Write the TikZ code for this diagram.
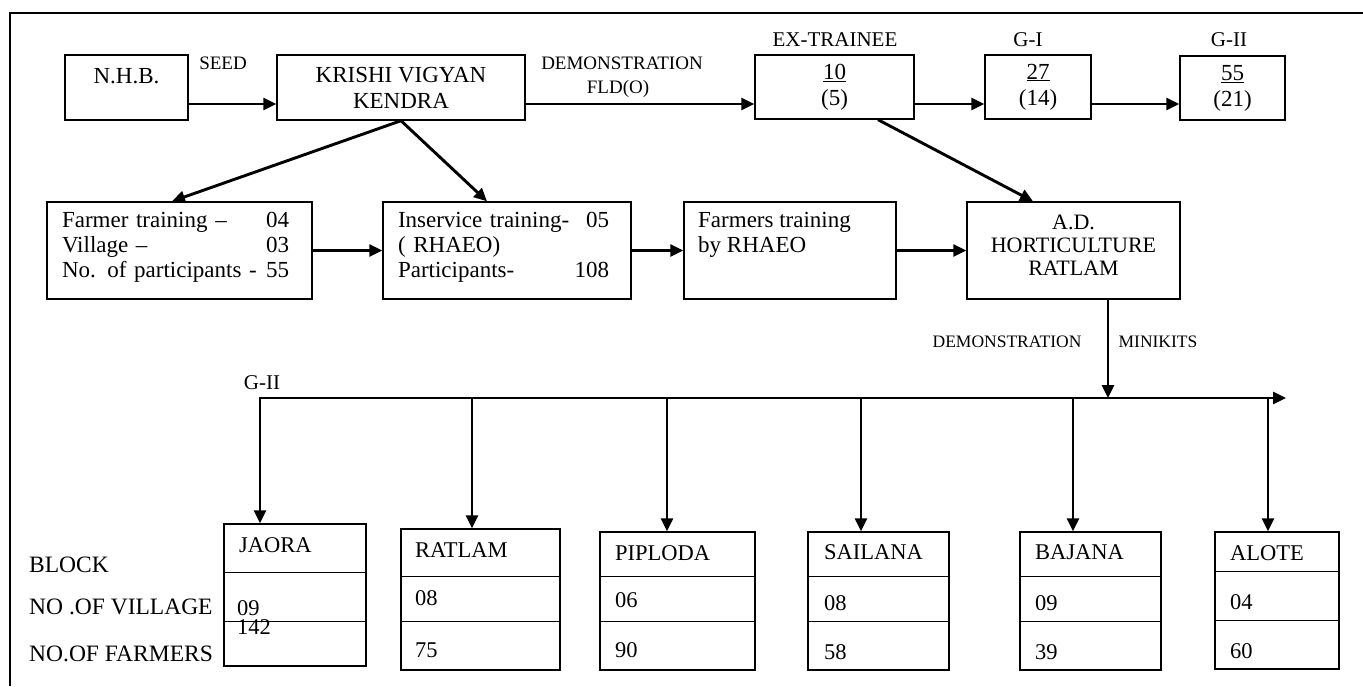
\documentclass[tikz,border=0pt]{standalone}
\usepackage{fontspec}
\setmainfont{Liberation Serif}
\usetikzlibrary{arrows.meta,calc}
\newcommand\myfs[2]{\fontsize{#1}{#2}\selectfont}
\begin{document}
\begin{tikzpicture}[x=1pt,y=-1pt,
  box/.style={draw,line width=1.4pt,inner sep=0pt},
  divl/.style={line width=1.4pt},
  txt/.style={inner sep=0pt,font=\myfs{23}{26}},
  lbl/.style={inner sep=0pt,font=\myfs{19}{22}},
  sml/.style={inner sep=0pt,font=\myfs{17.5}{20}},
  arr/.style={line width=2.9pt,-{Triangle[length=13pt,width=12pt]}},
  arrb/.style={line width=2.9pt,{Triangle[length=13pt,width=12pt]}-{Triangle[length=13pt,width=12pt]}},
]
\useasboundingbox (0,0) rectangle (1363,686);
% frame
\draw[line width=2.8pt] (10,686) -- (10,13) -- (1363,13);

% ---------- row 1 ----------
\node[box,minimum width=123pt,minimum height=65pt] (nhb) at (126.5,87.5) {};
\node[txt] (nhbt) at (126.5,76) {N.H.B.};
\node[box,minimum width=248pt,minimum height=65pt,align=center,font=\myfs{23}{26}] (kvk) at (401,87.5) {KRISHI VIGYAN\\KENDRA};
\node[box,minimum width=159pt,minimum height=64pt,align=center,font=\myfs{23}{26}] (ex) at (834.5,87) {\underline{10}\\(5)};
\node[box,minimum width=106pt,minimum height=64pt,align=center,font=\myfs{23}{26}] (g1) at (1038,87) {\underline{27}\\(14)};
\node[box,minimum width=105pt,minimum height=64pt,align=center,font=\myfs{23}{26}] (g2) at (1232.5,88) {\underline{55}\\(21)};

\node[lbl] (seed) at (223,63) {SEED};
\node[lbl] (demo) at (622,63) {DEMONSTRATION};
\node[lbl] (fld) at (618,89) {FLD(O)};
\node[inner sep=0pt,font=\myfs{21}{24}] (exl) at (835,40) {EX-TRAINEE};
\node[inner sep=0pt,font=\myfs{21}{24}] (g1l) at (1028,40) {G-I};
\node[inner sep=0pt,font=\myfs{21}{24}] (g2l) at (1229,40) {G-II};

\draw[arr] ([yshift=-16.5pt]nhb.east) -- ([yshift=-16.5pt]kvk.west);
\draw[arr] ([yshift=-16.5pt]kvk.east) -- ([yshift=-17pt]ex.west);
\draw[arr] ([yshift=-17pt]ex.east) -- ([yshift=-17pt]g1.west);
\draw[arr] ([yshift=-17pt]g1.east) -- ([yshift=-16pt]g2.west);

% ---------- row 2 ----------
\node[box,minimum width=265pt,minimum height=97pt] (farm) at (179.5,250.5) {};
\node[box,minimum width=248pt,minimum height=97pt] (insv) at (507,250.5) {};
\node[box,minimum width=212pt,minimum height=97pt] (rhaeo) at (790,250.5) {};
\node[box,minimum width=213pt,minimum height=97pt] (ad) at (1073.5,250.5) {};

\node[txt,font=\myfs{23}{25},text width=227pt,align=left] (farmt) at (175.5,247)
  {Farmer training –\hfill 04\\Village –\hfill 03\\No. of participants -\hfill 55\hspace*{3pt}};
\node[txt,font=\myfs{23}{25},text width=211pt,align=left] (insvt) at (503.5,247)
  {Inservice training-\hfill 05\\( RHAEO)\\Participants-\hfill 108};
\node[txt,font=\myfs{23}{25},anchor=west,align=left] (rhaeot) at (698,234.5)
  {Farmers training\\by RHAEO};
\node[txt,font=\myfs{22}{23},align=center] (adt) at (1073.5,245)
  {A.D.\\HORTICULTURE\\RATLAM};

\draw[arr] (kvk.south) -- ([xshift=-7.5pt]farm.north);
\draw[arr] (kvk.south) -- ([xshift=-20pt]insv.north);
\draw[arr] ([xshift=43.5pt]ex.south) -- ([xshift=-40.5pt]ad.north);
\draw[arr] (farm.east) -- (insv.west);
\draw[arr] (insv.east) -- (rhaeo.west);
\draw[arr] (rhaeo.east) -- (ad.west);

% ---------- distribution ----------
\coordinate (bjoin) at (1108,398);
\draw[arr] ([xshift=34.5pt]ad.south) -- (bjoin);
\node[sml] (demo2) at (1007,342) {DEMONSTRATION};
\node[sml] (mini) at (1158,342) {MINIKITS};
\node[inner sep=0pt,font=\myfs{21}{24}] (g2b) at (262,383) {G-II};

% blocks
\node[box,minimum width=142pt,minimum height=142pt] (jaora) at (295,595) {};
\node[box,minimum width=159pt,minimum height=141pt] (ratlam) at (480.5,599.5) {};
\node[box,minimum width=155pt,minimum height=138pt] (piploda) at (677.5,601) {};
\node[box,minimum width=141pt,minimum height=138pt] (sailana) at (878.5,601) {};
\node[box,minimum width=141pt,minimum height=138pt] (bajana) at (1090.5,601) {};
\node[box,minimum width=124pt,minimum height=137pt] (alote) at (1277,600.5) {};

\coordinate (busL) at (260,398);
\coordinate (busR) at (1286,398);
\coordinate (t2) at (472,398);
\coordinate (t3) at (667,398);
\coordinate (t4) at (861,398);
\coordinate (t5) at (1073,398);
\coordinate (t6) at (1268,398);
\draw[arrb] (busL |- jaora.north) -- (busL) -- (busR);
\draw[arr] (t2) -- (t2 |- ratlam.north);
\draw[arr] (t3) -- (t3 |- piploda.north);
\draw[arr] (t4) -- (t4 |- sailana.north);
\draw[arr] (t5) -- (t5 |- bajana.north);
\draw[arr] (t6) -- (t6 |- alote.north);

% dividers
\foreach \b/\da/\db in {jaora/49/98, ratlam/48/93, piploda/45/90, sailana/45/90, bajana/45/90, alote/40/89}{
  \draw[divl] ([yshift=-\da pt]\b.north west) -- ([yshift=-\da pt]\b.north east);
  \draw[divl] ([yshift=-\db pt]\b.north west) -- ([yshift=-\db pt]\b.north east);
}

% block texts
\begin{scope}[every node/.style={txt,font=\myfs{22.5}{24},anchor=west}]
\node (jn) at (239,545) {JAORA};
\node (jv) at (237,608) {09};
\node (jf) at (237,627) {142};
\node (rn) at (415,550) {RATLAM};
\node (rv) at (415,598) {08};
\node (rf) at (415,650) {75};
\node (pn) at (615,553) {PIPLODA};
\node (pv) at (615,600) {06};
\node (pf) at (615,650) {90};
\node (sn) at (824,552) {SAILANA};
\node (sv) at (824,603) {08};
\node (sf) at (824,652) {58};
\node (bn) at (1035,552) {BAJANA};
\node (bv) at (1035,603) {09};
\node (bf) at (1035,652) {39};
\node (an) at (1230,553) {ALOTE};
\node (av) at (1230,602) {04};
\node (af) at (1230,651) {60};
\end{scope}
\begin{scope}[every node/.style={txt,font=\myfs{23.5}{26},anchor=west}]
\node (rowa) at (29,565) {BLOCK};
\node (rowb) at (29,607) {NO .OF VILLAGE};
\node (rowc) at (29,654) {NO.OF FARMERS};
\end{scope}
\end{tikzpicture}
\end{document}
